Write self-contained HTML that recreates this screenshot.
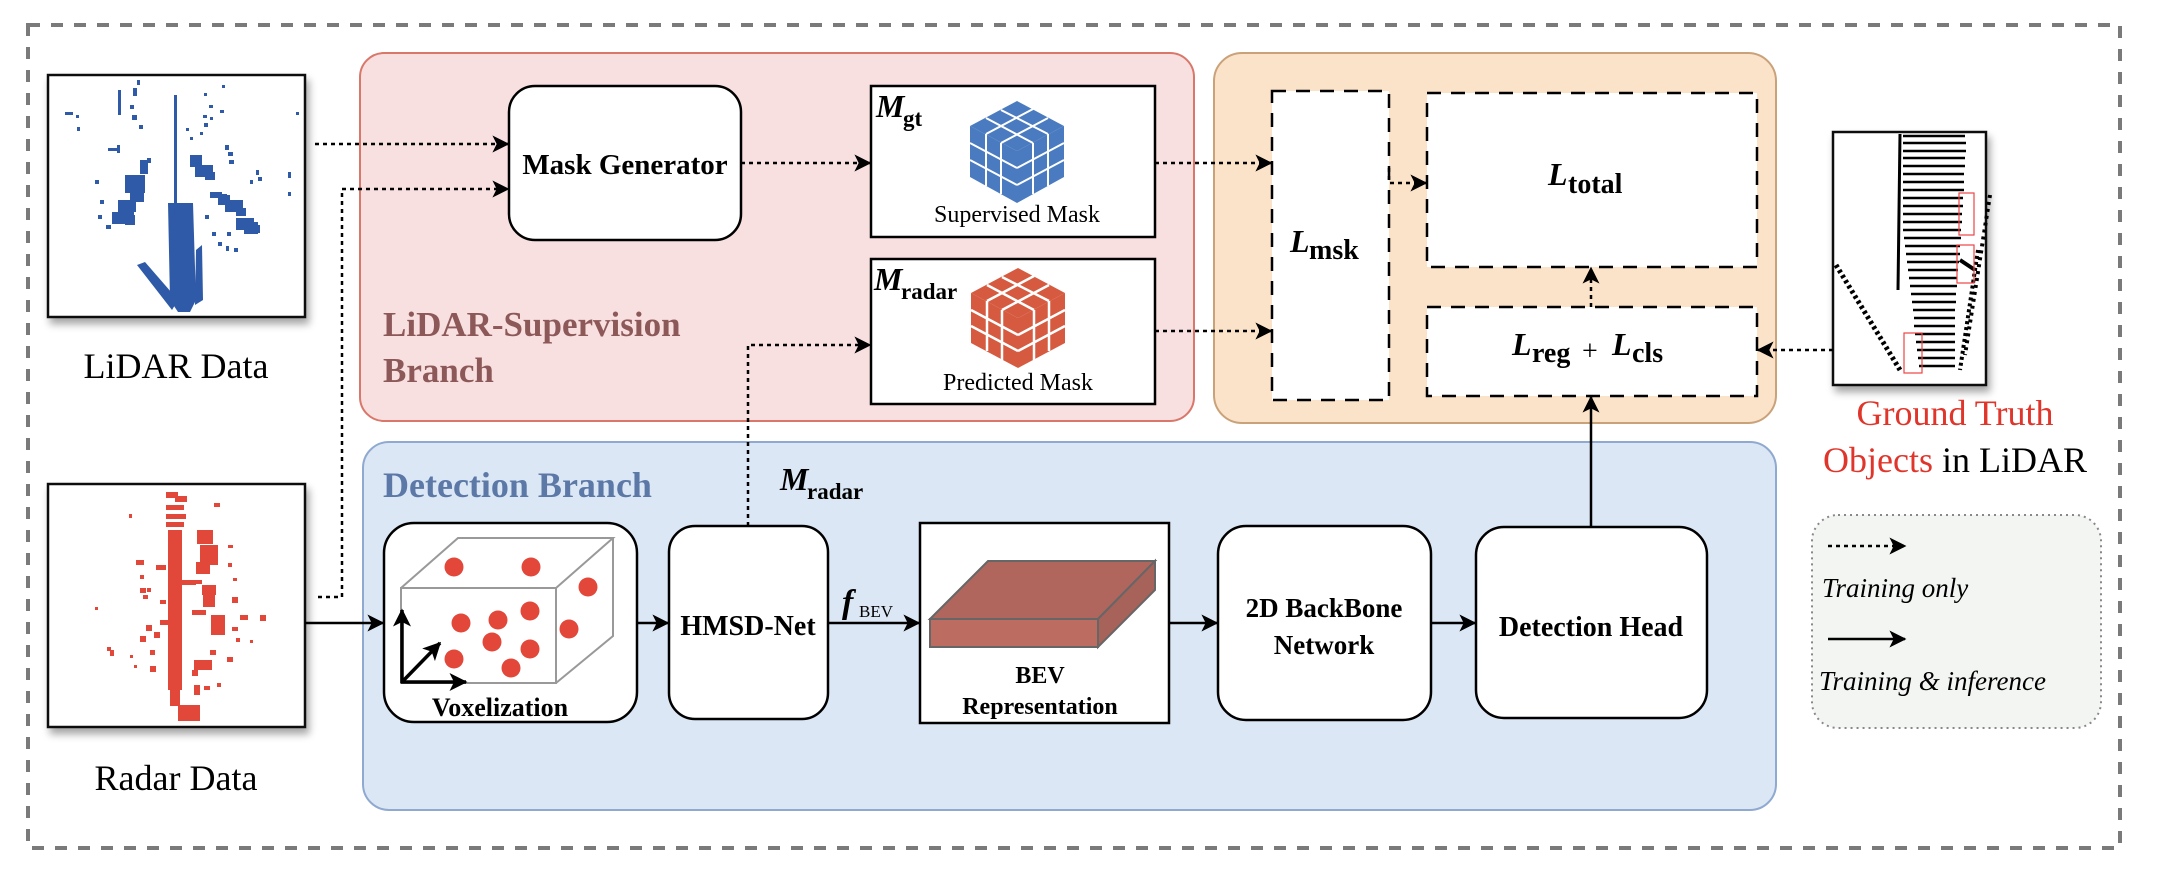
<!DOCTYPE html>
<html><head><meta charset="utf-8"><style>
html,body{margin:0;padding:0;background:#fff;}
svg{display:block;}
text{font-family:"Liberation Serif","DejaVu Serif",serif;}
.b{font-weight:bold;}
</style></head><body>
<svg width="2166" height="878" viewBox="0 0 2166 878" xmlns="http://www.w3.org/2000/svg">
<defs>
<marker id="ah" viewBox="0 0 12 12" refX="11" refY="6" markerWidth="17" markerHeight="17" markerUnits="userSpaceOnUse" orient="auto">
<path d="M0,0 L12,6 L0,12 L3,6 Z" fill="#000"/>
</marker>
<marker id="ahs" viewBox="0 0 12 12" refX="11" refY="6" markerWidth="18" markerHeight="18" markerUnits="userSpaceOnUse" orient="auto">
<path d="M0,0 L12,6 L0,12 L3,6 Z" fill="#000"/>
</marker>
<filter id="sh" x="-10%" y="-10%" width="130%" height="130%"><feDropShadow dx="3" dy="6" stdDeviation="4" flood-color="#000" flood-opacity="0.35"/></filter>
</defs>

<rect x="28" y="25" width="2092" height="823" fill="none" stroke="#7a7a7a" stroke-width="4" stroke-dasharray="12,11"/>

<rect x="360" y="53" width="834" height="368" rx="24" fill="#f8dfe0" stroke="#d9776a" stroke-width="2"/>
<rect x="1214" y="53" width="562" height="370" rx="28" fill="#fbe3c9" stroke="#c9a27a" stroke-width="2"/>
<rect x="363" y="442" width="1413" height="368" rx="26" fill="#dce7f5" stroke="#8fa9d0" stroke-width="2"/>

<text x="383" y="336" class="b" font-size="35" fill="#8d5858">LiDAR-Supervision</text>
<text x="383" y="382" class="b" font-size="35" fill="#8d5858">Branch</text>
<text x="383" y="497" class="b" font-size="36" fill="#5b78a6">Detection Branch</text>

<rect x="48" y="75" width="257" height="242" fill="#fff" stroke="#111" stroke-width="2.5" filter="url(#sh)"/>
<g fill="#2f5aa8">
<path d="M168,203 L193,203 L196,300 L190,312 L178,312 L170,300 Z"/>
<path d="M137,265 L145,262 L178,300 L172,310 Z"/>
<path d="M196,250 L202,245 L203,300 L195,305 Z"/>
<rect x="174" y="95" width="3" height="108"/>
<rect x="118" y="90" width="3" height="25"/>
<rect x="108" y="148" width="10" height="3"/><rect x="117" y="145" width="3" height="8"/>
<rect x="125" y="175" width="20" height="18"/><rect x="130" y="190" width="14" height="12"/><rect x="140" y="160" width="8" height="14"/>
<rect x="112" y="212" width="22" height="12"/><rect x="118" y="200" width="18" height="12"/><rect x="125" y="215" width="10" height="10"/>
<rect x="95" y="180" width="4" height="4"/><rect x="100" y="200" width="4" height="4"/><rect x="98" y="215" width="4" height="4"/><rect x="106" y="225" width="5" height="4"/>
<rect x="132" y="115" width="5" height="5"/><rect x="133" y="88" width="4" height="8"/><rect x="137" y="80" width="3" height="5"/><rect x="130" y="105" width="4" height="4"/>
<rect x="65" y="112" width="8" height="3"/><rect x="76" y="115" width="3" height="3"/><rect x="77" y="127" width="3" height="4"/>
<rect x="190" y="155" width="12" height="12"/><rect x="195" y="165" width="18" height="12"/><rect x="205" y="172" width="10" height="8"/>
<rect x="210" y="192" width="12" height="6"/><rect x="222" y="194" width="5" height="5"/><rect x="223" y="200" width="5" height="5"/>
<rect x="218" y="195" width="12" height="10"/><rect x="225" y="200" width="18" height="12"/><rect x="236" y="208" width="10" height="8"/>
<rect x="236" y="218" width="18" height="12"/><rect x="244" y="222" width="14" height="12"/><rect x="252" y="225" width="8" height="8"/>
<rect x="205" y="215" width="4" height="4"/><rect x="212" y="232" width="4" height="4"/><rect x="218" y="242" width="4" height="4"/><rect x="226" y="246" width="3" height="5"/>
<rect x="225" y="145" width="4" height="5"/><rect x="228" y="152" width="5" height="4"/><rect x="229" y="160" width="5" height="4"/>
<rect x="256" y="170" width="3" height="5"/><rect x="258" y="177" width="4" height="4"/><rect x="250" y="180" width="3" height="4"/>
<rect x="204" y="123" width="4" height="4"/><rect x="210" y="117" width="3" height="3"/><rect x="200" y="132" width="3" height="3"/>
<rect x="220" y="110" width="4" height="3"/><rect x="222" y="85" width="3" height="3"/><rect x="204" y="93" width="3" height="3"/>
<rect x="203" y="115" width="4" height="3"/><rect x="209" y="105" width="4" height="3"/>
<rect x="296" y="112" width="3" height="3"/><rect x="288" y="172" width="3" height="6"/><rect x="288" y="192" width="3" height="4"/>
<rect x="139" y="125" width="4" height="4"/><rect x="147" y="158" width="4" height="5"/>
<rect x="190" y="137" width="3" height="3"/><rect x="186" y="128" width="3" height="3"/>
<rect x="227" y="232" width="4" height="4"/><rect x="234" y="248" width="4" height="4"/>
</g>
<text x="176" y="378" text-anchor="middle" font-size="36">LiDAR Data</text>

<rect x="48" y="484" width="257" height="243" fill="#fff" stroke="#111" stroke-width="2.5" filter="url(#sh)"/>
<g fill="#e2483a">
<rect x="168" y="530" width="14" height="160"/>
<rect x="166" y="492" width="12" height="6"/><rect x="175" y="496" width="12" height="6"/><rect x="166" y="505" width="18" height="5"/><rect x="166" y="514" width="20" height="5"/><rect x="166" y="522" width="18" height="5"/>
<rect x="197" y="530" width="16" height="14"/><rect x="200" y="545" width="18" height="20"/><rect x="196" y="562" width="14" height="12"/>
<rect x="202" y="585" width="14" height="10"/><rect x="203" y="595" width="12" height="12"/><rect x="211" y="615" width="14" height="20"/>
<rect x="194" y="580" width="8" height="4"/><rect x="192" y="610" width="14" height="5"/><rect x="182" y="580" width="14" height="5"/>
<rect x="170" y="690" width="10" height="16"/><rect x="178" y="705" width="22" height="16"/>
<rect x="194" y="660" width="18" height="10"/><rect x="192" y="670" width="6" height="6"/><rect x="194" y="685" width="6" height="10"/>
<rect x="136" y="560" width="8" height="5"/><rect x="140" y="575" width="4" height="4"/><rect x="147" y="588" width="4" height="4"/>
<rect x="156" y="565" width="10" height="5"/><rect x="160" y="620" width="12" height="5"/><rect x="146" y="625" width="6" height="6"/>
<rect x="154" y="632" width="6" height="6"/><rect x="140" y="636" width="6" height="6"/><rect x="150" y="650" width="5" height="5"/><rect x="150" y="666" width="6" height="6"/>
<rect x="107" y="647" width="4" height="4"/><rect x="110" y="650" width="4" height="6"/><rect x="130" y="655" width="3" height="3"/><rect x="134" y="665" width="3" height="3"/>
<rect x="95" y="607" width="3" height="3"/><rect x="129" y="514" width="3" height="4"/><rect x="214" y="503" width="6" height="4"/>
<rect x="228" y="545" width="5" height="3"/><rect x="228" y="563" width="4" height="4"/><rect x="233" y="578" width="4" height="3"/>
<rect x="232" y="597" width="6" height="6"/><rect x="240" y="615" width="8" height="5"/><rect x="260" y="615" width="6" height="6"/>
<rect x="232" y="627" width="6" height="4"/><rect x="236" y="638" width="4" height="4"/><rect x="250" y="640" width="3" height="3"/>
<rect x="210" y="650" width="6" height="5"/><rect x="227" y="657" width="6" height="5"/><rect x="204" y="686" width="6" height="4"/><rect x="217" y="683" width="4" height="4"/>
<rect x="140" y="588" width="6" height="5"/><rect x="143" y="595" width="5" height="4"/><rect x="160" y="600" width="6" height="4"/>
</g>
<text x="176" y="790" text-anchor="middle" font-size="36">Radar Data</text>

<rect x="1833" y="132" width="153" height="253" fill="#fff" stroke="#111" stroke-width="2.5" filter="url(#sh)"/>
<g stroke="#000" stroke-width="2.5">
<line x1="1900" y1="134" x2="1898" y2="290" stroke-width="3"/>
<line x1="1903" y1="136" x2="1965" y2="136"/><line x1="1903" y1="143" x2="1966" y2="143"/><line x1="1903" y1="151" x2="1966" y2="151"/>
<line x1="1903" y1="158" x2="1965" y2="158"/><line x1="1903" y1="166" x2="1965" y2="166"/><line x1="1903" y1="174" x2="1964" y2="174"/>
<line x1="1903" y1="182" x2="1964" y2="182"/><line x1="1903" y1="190" x2="1964" y2="190"/><line x1="1903" y1="198" x2="1963" y2="198"/>
<line x1="1903" y1="206" x2="1963" y2="206"/><line x1="1903" y1="214" x2="1962" y2="214"/><line x1="1903" y1="222" x2="1962" y2="222"/>
<line x1="1903" y1="230" x2="1961" y2="230"/><line x1="1904" y1="238" x2="1961" y2="238"/><line x1="1905" y1="246" x2="1960" y2="246"/>
<line x1="1906" y1="254" x2="1960" y2="254"/><line x1="1907" y1="262" x2="1959" y2="262"/><line x1="1908" y1="270" x2="1958" y2="270"/>
<line x1="1909" y1="278" x2="1957" y2="278"/><line x1="1910" y1="286" x2="1957" y2="286"/><line x1="1911" y1="294" x2="1956" y2="294"/>
<line x1="1912" y1="302" x2="1956" y2="302"/><line x1="1913" y1="310" x2="1955" y2="310"/><line x1="1914" y1="318" x2="1955" y2="318"/>
<line x1="1914" y1="326" x2="1955" y2="326"/><line x1="1915" y1="334" x2="1955" y2="334"/><line x1="1916" y1="342" x2="1955" y2="342"/>
<line x1="1917" y1="350" x2="1955" y2="350"/><line x1="1918" y1="358" x2="1955" y2="358"/><line x1="1919" y1="366" x2="1955" y2="366"/>
<line x1="1836" y1="265" x2="1900" y2="370" stroke-width="5" stroke-dasharray="3,3"/>
<line x1="1990" y1="195" x2="1965" y2="355" stroke-width="4" stroke-dasharray="3,4"/>
<line x1="1978" y1="250" x2="1960" y2="370" stroke-width="4" stroke-dasharray="3,3"/>
<line x1="1960" y1="260" x2="1975" y2="270" stroke-width="4"/>
</g>
<g fill="none" stroke="#e44" stroke-width="1.2">
<rect x="1959" y="193" width="15" height="42"/><rect x="1957" y="245" width="17" height="38"/><rect x="1904" y="333" width="18" height="40"/>
</g>
<text x="1955" y="425" text-anchor="middle" font-size="36" fill="#e0352a">Ground Truth</text>
<text x="1955" y="472" text-anchor="middle" font-size="36"><tspan fill="#e0352a">Objects</tspan> in LiDAR</text>

<rect x="509" y="86" width="232" height="154" rx="26" fill="#fff" stroke="#000" stroke-width="2.5"/>
<text x="625" y="174" text-anchor="middle" class="b" font-size="29">Mask Generator</text>

<rect x="871" y="86" width="284" height="151" fill="#fff" stroke="#000" stroke-width="2.5"/>
<text x="876" y="117" class="b" font-style="italic" font-size="32">M</text>
<text x="903" y="126" class="b" font-size="23">gt</text>
<g>
<path d="M1017,101 L1064,126 L1017,151 L970,126 Z" fill="#4a7bc0"/>
<path d="M970,126 L1017,151 L1017,203 L970,177 Z" fill="#4a7bc0"/>
<path d="M1064,126 L1017,151 L1017,203 L1064,177 Z" fill="#4a7bc0"/>
<g stroke="#fff" stroke-width="2" fill="none">
<path d="M986,118 L1033,143 M1001,110 L1048,134 M1033,109 L986,134 M1048,118 L1001,143"/>
<path d="M986,134 L986,186 M1001,143 L1001,194 M970,143 L1017,168 M970,160 L1017,185"/>
<path d="M1033,143 L1033,194 M1048,134 L1048,186 M1064,143 L1017,168 M1064,160 L1017,185"/>
</g>
</g>
<text x="1017" y="222" text-anchor="middle" font-size="24">Supervised Mask</text>

<rect x="871" y="259" width="284" height="145" fill="#fff" stroke="#000" stroke-width="2.5"/>
<text x="874" y="290" class="b" font-style="italic" font-size="32">M</text>
<text x="901" y="299" class="b" font-size="23">radar</text>
<g>
<path d="M1018,268 L1065,293 L1018,318 L971,293 Z" fill="#d65a40"/>
<path d="M971,293 L1018,318 L1018,368 L971,343 Z" fill="#d65a40"/>
<path d="M1065,293 L1018,318 L1018,368 L1065,343 Z" fill="#d65a40"/>
<g stroke="#fff" stroke-width="2.5" fill="none">
<path d="M987,285 L1034,310 M1002,277 L1049,301 M1034,276 L987,301 M1049,285 L1002,310"/>
<path d="M987,301 L987,351 M1002,310 L1002,360 M971,310 L1018,335 M971,326 L1018,351"/>
<path d="M1034,310 L1034,360 M1049,301 L1049,351 M1065,310 L1018,335 M1065,326 L1018,351"/>
</g>
</g>
<text x="1018" y="390" text-anchor="middle" font-size="24">Predicted Mask</text>

<g fill="#fff" stroke="#000" stroke-width="2.5" stroke-dasharray="14,10">
<rect x="1272" y="91" width="117" height="309"/>
<rect x="1427" y="93" width="330" height="174"/>
<rect x="1427" y="307" width="330" height="89"/>
</g>
<text x="1290" y="252" class="b" font-style="italic" font-size="32">L</text>
<text x="1309" y="259" class="b" font-size="28">msk</text>
<text x="1548" y="185" class="b" font-style="italic" font-size="32">L</text>
<text x="1568" y="193" class="b" font-size="28">total</text>
<text x="1512" y="355" class="b" font-style="italic" font-size="32">L</text>
<text x="1532" y="362" class="b" font-size="28">reg</text>
<text x="1582" y="360" font-size="28">+</text>
<text x="1612" y="355" class="b" font-style="italic" font-size="32">L</text>
<text x="1632" y="362" class="b" font-size="28">cls</text>

<rect x="384" y="523" width="253" height="199" rx="30" fill="#fff" stroke="#000" stroke-width="2.5"/>
<g fill="none" stroke="#999" stroke-width="2">
<path d="M401,588 L556,588 L556,683 L401,683 Z"/>
<path d="M401,588 L458,538 L613,538 L556,588 M613,538 L613,636 L556,683"/>
</g>
<g fill="#e2473a">
<circle cx="454" cy="567" r="9.5"/><circle cx="531" cy="567" r="9.5"/><circle cx="588" cy="587" r="9.5"/>
<circle cx="461" cy="623" r="9.5"/><circle cx="498" cy="620" r="9.5"/><circle cx="530" cy="611" r="9.5"/>
<circle cx="569" cy="629" r="9.5"/><circle cx="492" cy="642" r="9.5"/><circle cx="454" cy="659" r="9.5"/>
<circle cx="530" cy="649" r="9.5"/><circle cx="511" cy="668" r="9.5"/>
</g>
<g stroke="#000" stroke-width="3.5" fill="none">
<line x1="402" y1="683" x2="402" y2="610" marker-end="url(#ahs)"/>
<line x1="401" y1="682" x2="466" y2="682" marker-end="url(#ahs)"/>
<line x1="402" y1="682" x2="440" y2="643" marker-end="url(#ahs)"/>
</g>
<text x="500" y="716" text-anchor="middle" class="b" font-size="26">Voxelization</text>

<rect x="669" y="526" width="159" height="193" rx="26" fill="#fff" stroke="#000" stroke-width="2.5"/>
<text x="748" y="635" text-anchor="middle" class="b" font-size="28">HMSD-Net</text>

<text x="842" y="613" class="b" font-style="italic" font-size="34">f</text>
<text x="859" y="617" font-size="17">BEV</text>

<rect x="920" y="523" width="249" height="200" fill="#fff" stroke="#000" stroke-width="2.5"/>
<path d="M930,619 L988,561 L1155,561 L1098,619 Z" fill="#b0665d" stroke="#666" stroke-width="2"/>
<path d="M930,619 L1098,619 L1098,647 L930,647 Z" fill="#bd6c62" stroke="#666" stroke-width="2"/>
<path d="M1098,619 L1155,561 L1155,590 L1098,647 Z" fill="#a7625a" stroke="#666" stroke-width="2"/>
<text x="1040" y="683" text-anchor="middle" class="b" font-size="24">BEV</text>
<text x="1040" y="714" text-anchor="middle" class="b" font-size="24">Representation</text>

<rect x="1218" y="526" width="213" height="194" rx="28" fill="#fff" stroke="#000" stroke-width="2.5"/>
<text x="1324" y="617" text-anchor="middle" class="b" font-size="27">2D BackBone</text>
<text x="1324" y="654" text-anchor="middle" class="b" font-size="27">Network</text>

<rect x="1476" y="527" width="231" height="191" rx="28" fill="#fff" stroke="#000" stroke-width="2.5"/>
<text x="1591" y="636" text-anchor="middle" class="b" font-size="28">Detection Head</text>

<rect x="1812" y="515" width="289" height="213" rx="26" fill="#f3f5f3" stroke="#888" stroke-width="2" stroke-dasharray="2,4"/>
<line x1="1828" y1="546" x2="1905" y2="546" stroke="#000" stroke-width="2.5" stroke-dasharray="4,4" marker-end="url(#ah)"/>
<text x="1822" y="597" font-style="italic" font-size="27">Training only</text>
<line x1="1828" y1="639" x2="1905" y2="639" stroke="#000" stroke-width="2.5" marker-end="url(#ah)"/>
<text x="1819" y="690" font-style="italic" font-size="27">Training &amp; inference</text>

<g fill="none" stroke="#000" stroke-width="2.5" stroke-dasharray="4,4">
<line x1="315" y1="144" x2="508" y2="144" marker-end="url(#ah)"/>
<polyline points="318,597 342,597 342,189 508,189" marker-end="url(#ah)"/>
<line x1="741" y1="163" x2="870" y2="163" marker-end="url(#ah)"/>
<polyline points="748,526 748,345 870,345" marker-end="url(#ah)"/>
<line x1="1155" y1="163" x2="1271" y2="163" marker-end="url(#ah)"/>
<line x1="1155" y1="331" x2="1271" y2="331" marker-end="url(#ah)"/>
<polyline points="1389,168 1389,183 1426,183" marker-end="url(#ah)"/>
<line x1="1591" y1="307" x2="1591" y2="268" marker-end="url(#ah)"/>
<line x1="1833" y1="350" x2="1758" y2="350" marker-end="url(#ah)"/>
</g>
<g fill="none" stroke="#000" stroke-width="2.5">
<line x1="305" y1="623" x2="383" y2="623" marker-end="url(#ah)"/>
<line x1="637" y1="623" x2="668" y2="623" marker-end="url(#ah)"/>
<line x1="828" y1="623" x2="919" y2="623" marker-end="url(#ah)"/>
<line x1="1169" y1="623" x2="1217" y2="623" marker-end="url(#ah)"/>
<line x1="1431" y1="623" x2="1475" y2="623" marker-end="url(#ah)"/>
<line x1="1591" y1="527" x2="1591" y2="397" marker-end="url(#ah)"/>
</g>
<text x="780" y="490" class="b" font-style="italic" font-size="32">M</text>
<text x="807" y="499" class="b" font-size="23">radar</text>
</svg>
</body></html>
